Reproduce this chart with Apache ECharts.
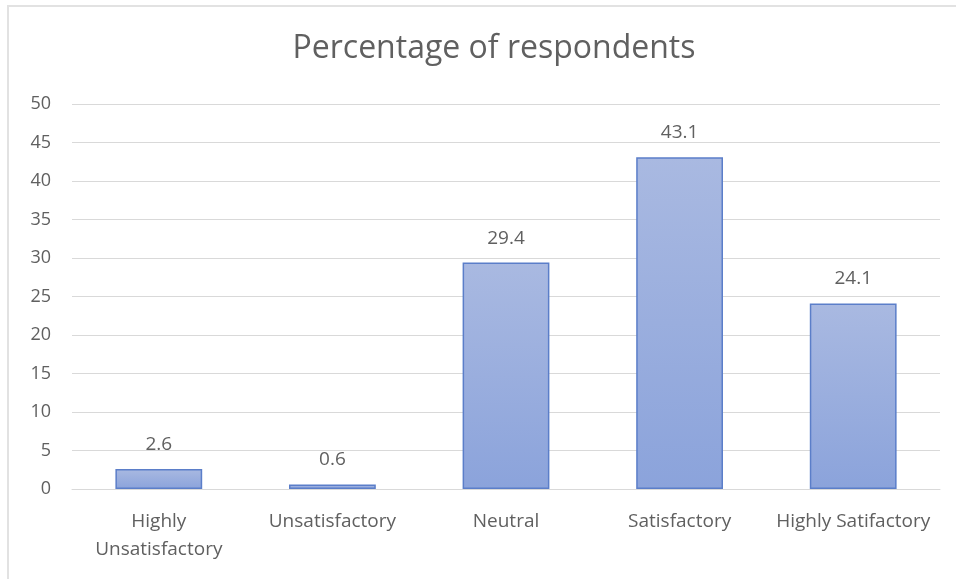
<!DOCTYPE html>
<html><head><meta charset="utf-8">
<script src="https://cdn.jsdelivr.net/npm/echarts@6/dist/echarts.min.js"></script>
<style>
html,body{margin:0;padding:0;background:#fff;}
#frame{position:absolute;left:7px;top:5px;width:960px;height:590px;border-left:2px solid #e2e2e2;border-top:2px solid #e2e2e2;}
#c{position:absolute;left:0;top:0;width:956px;height:579px;}
</style></head>
<body><div id="frame"></div><div id="c"></div>
<script>
const categories = ["Highly\nUnsatisfactory", "Unsatisfactory", "Neutral", "Satisfactory", "Highly Satifactory"];
const values = [2.6, 0.6, 29.4, 43.1, 24.1];
const titleText = "Percentage of respondents";

const chart = echarts.init(document.getElementById('c'), null, {renderer:'canvas'});
const font = "Open Sans";
chart.setOption({
  animation:false,
  backgroundColor:'transparent',
  title:{text:titleText,left:489,textAlign:'center',top:28,textStyle:{fontFamily:font,fontSize:32,fontWeight:'normal',color:'#606060'}},
  grid:{left:72,right:16,top:104,bottom:90,containLabel:false},
  xAxis:{type:'category',data:categories,
    axisLine:{show:true,lineStyle:{color:'#d9d9d9',width:1}},
    axisTick:{show:false},
    axisLabel:{fontFamily:font,fontSize:19,color:'#606060',margin:19,lineHeight:28,interval:0}},
  yAxis:{type:'value',min:0,max:50,interval:5,
    axisLine:{show:false},axisTick:{show:false},
    splitLine:{lineStyle:{color:'#d9d9d9',width:1}},
    axisLabel:{fontFamily:font,fontSize:18,color:'#606060',margin:21,align:'right'}},
  series:[{type:'bar',data:values,barWidth:'50%',
    itemStyle:{
      color:new echarts.graphic.LinearGradient(0,0,0,1,[{offset:0,color:'#a9b9e1'},{offset:1,color:'#8ba3db'}]),
      borderColor:'#5b7ec9',borderWidth:1.5},
    label:{show:true,position:'top',distance:15,fontFamily:font,fontSize:19,color:'#606060'}}]
});
</script></body></html>
